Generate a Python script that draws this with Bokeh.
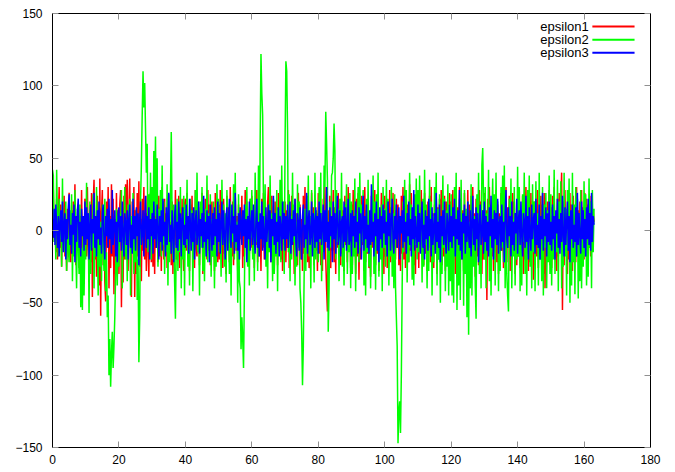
import numpy as np
from bokeh.plotting import figure
from bokeh.models import (Range1d, LinearAxis, FixedTicker, Label, Arrow,
                          CustomLabelingPolicy)
from bokeh.embed import file_html
from bokeh.resources import INLINE

x_step = 0.25

epsilon1 = [
    -8, 28, -5, 12, -15, 22, -20, 6, 30, -12,
    18, -25, 10, -4, 24, -18, 8, -28, 15, -10,
    26, -6, -22, 14, -16, 20, -8, 32, -24, 4,
    -12, 18, -26, 10, -20, 28, -14, 6, -30, 22,
    20, -18, 30, -10, -28, 14, -22, 26, -46, 18,
    35, -20, 8, -32, 24, -14, -38, 36, -59, 12,
    28, -24, 16, -35, -49, 20, -12, 30, -40, 10,
    -26, 32, -18, 22, -44, 8, -30, 26, -20, 14,
    -30, 18, 28, -53, 12, -36, 24, -20, 32, -15,
    35, -28, 10, 36, -22, -46, 20, -12, 30, -46,
    14, -30, 26, -18, 34, -25, 8, -35, 22, -14,
    30, -20, 12, -28, 24, -10, -32, 18, 26, -22,
    20, -25, 14, -30, 28, -12, 8, -22, 24, -18,
    16, -28, 30, -8, -20, 22, -14, 12, -26, 18,
    25, -16, 6, -24, 20, -30, 14, -10, 28, -20,
    10, -18, 24, -26, 16, -12, 22, -8, -28, 18,
    22, -14, 26, -20, 10, -28, 18, -8, 24, -22,
    14, -26, 28, -12, -18, 20, 8, -24, 16, -10,
    26, -30, 12, -16, 22, -6, -20, 28, -14, 18,
    -24, 10, 20, -18, 14, -28, 26, -12, 8, -22,
    18, -20, 28, -10, 14, -26, 22, -16, 8, -30,
    24, -12, 16, -22, 30, -8, -18, 20, -24, 12,
    26, -14, 10, -28, 18, -20, 14, -6, 24, -26,
    12, -18, 28, -10, 20, -24, 8, -16, 22, -12,
    24, -16, 12, -26, 20, -10, 28, -22, 14, -18,
    8, -28, 22, -12, 26, -20, 16, -8, -24, 18,
    30, -14, 10, -22, 24, -18, 12, -30, 20, -6,
    16, -24, 26, -14, 8, -20, 22, -28, 14, -10,
    20, -22, 14, -12, 28, -26, 10, -18, 24, -8,
    16, -30, 22, -14, 12, -24, 26, -10, 18, -20,
    8, -28, 24, -16, 30, -12, 14, -22, 20, -26,
    10, -18, 26, -8, 16, -24, 22, -14, 12, -28,
    26, -16, 20, -24, 12, -28, 22, -10, 30, -20,
    -40, -56, 14, -18, 24, -26, 10, -14, 28, -22,
    16, -30, 20, -12, 26, -18, 8, -24, 22, -16,
    14, -28, 24, -10, 18, -22, 30, -14, 12, -26,
    18, -24, 28, -14, 10, -30, 22, -18, 26, -34,
    12, -20, 24, -10, 16, -28, 30, -22, 14, -16,
    20, -26, 8, -32, 24, -12, 18, -20, 28, -24,
    10, -16, 22, -28, 14, -8, 26, -20, 16, -30,
    24, -18, 12, -26, 20, -14, 28, -22, 16, -10,
    26, -30, 14, -20, 22, -12, 18, -24, 10, -28,
    24, -16, 30, -20, 12, -26, 22, -8, 18, -22,
    32, -14, 26, -18, 10, -24, 20, -30, 14, -12,
    22, -26, 16, -12, 28, -20, 10, -24, 26, -16,
    14, -28, 20, -10, 24, -22, 30, -18, 12, -26,
    18, -14, 26, -30, 16, -20, 22, -12, 28, -24,
    10, -18, 24, -28, 20, -14, 12, -22, 26, -16,
    20, -24, 28, -14, 12, -30, 24, -18, 16, -26,
    30, -12, 22, -20, 14, -28, 26, -16, 10, -22,
    28, -14, 18, -26, 24, -10, 30, -20, 12, -32,
    22, -18, 16, -24, 28, -12, 20, -30, 14, -20,
    26, -20, 14, -48, 22, -16, 30, -24, 10, -18,
    24, -28, 16, -12, 28, -22, 18, -30, 12, -20,
    26, -14, 22, -26, 10, -18, 30, -22, 16, -12,
    24, -28, 14, -20, 26, -16, 20, -30, 12, -24,
    22, -18, 28, -26, 14, -12, 24, -30, 18, -20,
    30, -16, 12, -28, 22, -22, 26, -14, 16, -34,
    20, -24, 10, -18, 28, -26, 14, -20, 24, -12,
    18, -30, 26, -40, 12, -22, 20, -16, 28, -24,
    16, -26, 24, -14, 30, -20, 12, -28, 22, -18,
    26, -12, 18, 40, -55, 20, -24, 28, -16, 14,
    -30, 22, -20, 26, -12, 18, -28, 24, -14, 10,
    -22, 30, -18, 14, -26, 20, -10, 28, -24, 16,
    -20, 26, -14, 22, -28, 18, -12, 24, -18, 20,
    -10, 14, 6,
]

epsilon2 = [
    42, 38, -8, 15, -20, 42, 5, -18, 22, -6,
    12, -25, 36, -10, 4, -15, 20, -28, 8, -12,
    -22, 14, -5, 25, -35, 6, -18, 28, -10, -40,
    15, -8, -30, 18, -53, -12, -55, 10, -45, -5,
    -20, 33, -5, 12, -57, 20, -30, 8, -12, 25,
    -40, 5, -18, 30, -8, -45, 14, -25, 6, -35,
    18, -10, -28, 22, -42, -15, -60, -45, -100, -75,
    -108, -85, -70, -95, -80, -60, -30, 15, -38, 10,
    -25, 12, -8, 28, -40, 5, -15, 30, -20, 8,
    -35, 18, -6, 22, -45, 10, -12, 26, -30, 4,
    -22, 15, -48, -20, -91, -60, 20, 45, 80, 110,
    85, 102, 70, 40, 60, -15, 25, -10, 40, -20,
    30, -12, 55, 10, 65, -8, 50, -25, 15, -5,
    28, -18, 45, -10, 20, -30, 6, -15, 32, -38,
    12, -22, 25, 68, 8, -20, 18, -35, -61, -10,
    22, -28, 5, -15, 30, -40, 10, -20, 24, -45,
    18, -10, 35, -25, 6, -38, 22, -8, 14, -42,
    10, -20, 28, -5, 40, -15, 8, -45, 20, -12,
    30, -28, 5, -35, 15, -10, 38, -22, 12, -6,
    25, -32, 8, -18, 20, -40, 6, -25, 32, -8,
    22, -15, 8, -32, 35, -6, 18, -25, 12, -36,
    28, -10, 5, -30, 20, -45, 14, -8, 32, -20,
    40, -12, 6, -50, 25, -35, -40, -82, -60, -75,
    -95, -45, 18, -10, 30, -25, 8, -38, 22, -5,
    28, -20, 10, -35, 40, -8, 15, -28, 45, -12,
    60, 122, 95, 80, 20, -10, 32, -25, 6, -40,
    18, -15, 38, -6, 12, -35, 22, -30, 8, -18,
    28, -42, 14, -10, 35, -22, 45, -5, 20, -30,
    60, 117, 110, 70, -15, 25, -35, 10, -20, 40,
    -8, 18, -38, 6, -25, 32, -12, 20, -40, -50,
    -70, -107, -80, -30, 15, -28, 24, -6, 38, -18,
    10, -40, 28, -12, 5, -36, 40, -20, 14, -8,
    -22, 30, -8, 40, -35, 12, -15, 45, 30, 82,
    60, 35, -70, -40, 20, -12, 38, 40, 50, 74,
    55, -20, 28, -8, 15, -35, 22, -12, 40, -25,
    8, -38, 18, -6, 32, -30, 10, -15, 26, -40,
    20, -30, 8, -18, 36, -42, 12, -5, 30, -22,
    40, -12, 18, -8, 28, -38, 6, -45, 22, -15,
    35, -25, 10, -40, 15, -6, 38, -30, 20, -41,
    25, -10, 40, -32, 5, -20, 18, -42, 30, -12,
    15, -25, 35, -10, 22, -38, 8, -18, 30, -32,
    12, -40, 25, -39, -60, -80, -147, -125, -118, -140,
    -100, -40, 20, -15, 35, -8, 28, -36, 10, -22,
    40, -12, 18, -34, 6, -38, 25, -10, 36, -20,
    28, -15, 38, -8, 12, -36, 22, -25, 42, -10,
    18, -40, 6, -28, 35, -12, 20, -45, 10, -22,
    30, -8, 40, -38, 15, -20, 25, -50, 8, -30,
    38, -12, 22, -42, 14, -25, 32, -45, 18, -35,
    25, -45, 12, -50, 30, -18, 40, -55, 8, -38,
    22, -48, 35, -15, 10, -52, 28, -30, 15, -60,
    20, -72, 6, -40, 32, -45, 18, -25, 10, -38,
    -61, 25, -12, 40, -30, 8, -40, 45, 57, 20,
    -20, 30, -40, 12, -8, 42, -35, 18, -45, 6,
    36, -15, 25, -38, 40, -10, 20, -42, 8, -28,
    30, -12, 38, -22, 45, -40, 15, -30, -45, -56,
    22, -10, 36, -40, 8, -18, 30, -38, 12, -20,
    44, -18, 30, -42, 10, -38, 25, -8, 40, -30,
    15, -45, 28, -12, 38, -25, 6, -40, 32, -15,
    20, -42, 34, -10, 12, -38, 40, -20, 8, -35,
    30, -45, 18, -12, 26, -40, 14, -22, 38, -30,
    25, -38, 12, -20, 42, -30, 8, -15, 35, -42,
    20, -10, 34, -40, 6, -25, 40, -18, 15, -45,
    28, -12, 36, -50, 10, -38, 40, -22, 18, -44,
    30, -8, 22, -47, 12, -35, 28, -40, 6, -25,
    34, -18, 25, -38, 10, -32, 36, -12, 20, -40,
    28, -15, 15,
]

epsilon3 = [
    8, -5, 15, -10, 18, 2, -12, 10, -18, 6,
    14, -8, 20, -15, 5, 12, -20, 8, -6, 16,
    25, -10, 4, -16, 12, -3, 18, -22, 10, -8,
    14, 22, -12, 6, -18, 15, -4, 10, -14, 20,
    -10, 16, -6, 12, -20, 4, 18, -14, 8, -2,
    26, -12, 10, -18, 14, -6, 20, -10, 2, -16,
    12, 18, -8, -20, 10, -4, 15, -12, 22, -6,
    8, -16, 28, -10, 4, 14, -18, 6, -22, 12,
    16, -8, 10, -14, 20, -2, -18, 12, 6, -10,
    14, -20, 8, 18, -12, 4, -16, 22, -6, 10,
    -14, 16, -4, 12, -24, 8, 20, -10, -2, 14,
    -18, 6, 24, -12, 10, -6, 16, -20, 8, -4,
    12, -16, 20, -6, 8, -12, 18, 2, -20, 10,
    -8, 14, -14, 22, -4, 6, -18, 16, -10, 12,
    26, -8, 4, -16, 14, -2, -22, 10, 18, -12,
    6, -14, 20, -6, 12, -18, 8, 16, -10, 4,
    -12, 18, -6, 10, -16, 22, 4, -14, 12, -8,
    16, -20, 6, 14, -10, -2, 20, -16, 8, -4,
    12, -12, 24, -8, 6, -18, 14, -6, 10, -22,
    18, 2, -14, 12, -10, 16, -4, 8, -18, 20,
    -8, 12, -16, 6, 20, -10, 14, -4, -20, 10,
    16, -14, 8, 22, -6, -12, 18, -2, 10, -16,
    26, -8, 4, -14, 12, -20, 16, 6, -10, 14,
    -4, 18, -12, 8, -22, 10, -6, 20, -14, 4,
    14, -10, 18, -4, -16, 8, 22, -12, 6, -18,
    12, -6, 20, -14, 10, -2, -20, 16, -8, 4,
    18, -12, 14, -22, 8, -4, 24, -10, 12, -16,
    6, -8, 16, -18, 10, 2, -14, 20, -6, 12,
    -14, 10, -6, 18, -12, 4, 20, -16, 8, -10,
    14, -4, 22, -8, -18, 12, 6, -14, 16, -2,
    -20, 10, 18, -12, 4, -6, 26, -16, 8, 14,
    -10, -4, 20, -18, 12, 6, -12, 16, -8, 10,
    -16, 20, -6, 12, -10, 4, 18, -20, 14, -8,
    30, -12, 6, -14, 16, -4, 10, -22, 20, -6,
    12, -16, 8, 24, -10, -2, 14, -18, 6, 10,
    -12, 20, -8, 16, -14, 4, 22, -10, -6, 12,
    -18, 14, -4, 10, -12, 20, -8, 6, -16, 16,
    -2, 12, -20, 8, 24, -14, 10, -6, 18, -12,
    4, -16, 14, -10, 32, -8, 6, -18, 12, -4,
    20, -14, 8, -22, 16, -6, 10, -12, 18, -2,
    14, -10, 6, -18, 20, -4, 12, -14, 8, 22,
    -8, -16, 10, -6, 18, -12, 4, 16, -20, 10,
    -2, 14, -12, 24, -8, 6, -16, 12, -4, 20,
    -10, 8, -18, 16, -6, 28, -14, 10, -2, -12,
    18, -8, 12, -16, 6, 20, -12, 4, -20, 14,
    -6, 10, -14, 22, -4, 8, -18, 16, -10, 2,
    12, -16, 26, -8, 6, -12, 18, -22, 10, -4,
    14, -10, 20, -6, -16, 12, 4, -14, 18, -8,
    10, -12, 16, -4, 22, -18, 8, -6, 14, -10,
    28, -14, 6, -20, 12, -2, 18, -16, 10, -8,
    20, -4, -12, 14, -18, 6, 24, -10, 8, -14,
    16, -6, 12, -22, 4, 18, -10, -2, 14, -16,
    20, -8, 10, -14, 6, -18, 16, -4, 24, -12,
    8, -20, 14, -6, 12, -10, 22, -16, 4, 10,
    -14, 18, -8, 6, -22, 12, 28, -6, -12, 16,
    -4, 10, -18, 20, -10, 6, -14, 12, -2, 22,
    -16, 8, 14, -10, 20, -4, -18, 12, 6, -12,
    24, -8, 10, -20, 16, -2, -14, 18, -6, 8,
    12, -16, 22, -10, 4, -12, 18, -20, 10, -6,
    26, -14, 8, -4, 16, -18, 12, -8, 20, -10,
    6, -14, 18, -6, 10, -20, 14, -2, 22, -12,
    8, -16, 12, -8, 24, -4, -18, 16, -10, 6,
    20, -14, 10, -22, 14, -6, 18, -12, 4, -8,
    16, -18, 26, -10, 12, -4, -16, 20, -6, 14,
    -12, 8, -18, 16, -6, 22, -10, 12, -14, 26,
    -8, 10, 4,
]

series_names = ["epsilon1", "epsilon2", "epsilon3"]
series_values = [epsilon1, epsilon2, epsilon3]
series_colors = ["#ff0000", "#00ff00", "#0000ff"]
x_ticks = [0, 20, 40, 60, 80, 100, 120, 140, 160, 180]
y_ticks = [-150, -100, -50, 0, 50, 100, 150]

FONT = "Liberation Sans"

p = figure(width=675, height=472, output_backend="svg", toolbar_location=None,
           x_range=Range1d(0, 180), y_range=Range1d(-150, 150),
           min_border_left=52, min_border_right=25, min_border_top=13,
           min_border_bottom=25)
p.background_fill_color = "white"
p.border_fill_color = "white"
p.grid.visible = False
p.outline_line_color = "black"
p.outline_line_width = 1

p.add_layout(LinearAxis(), "above")
p.add_layout(LinearAxis(), "right")

for ax in p.xaxis:
    ax.ticker = FixedTicker(ticks=x_ticks)
for ax in p.yaxis:
    ax.ticker = FixedTicker(ticks=y_ticks)

for ax in list(p.xaxis) + list(p.yaxis):
    ax.major_tick_in = 6
    ax.major_tick_out = 0
    ax.minor_tick_in = 0
    ax.minor_tick_out = 0
    ax.major_tick_line_color = "#909090"
    ax.axis_line_color = "black"
    ax.major_label_text_font = FONT
    ax.major_label_text_font_size = "12px"
    ax.major_label_text_color = "black"

p.below[0].major_label_standoff = 7
p.left[0].major_label_standoff = 10

hide_labels = CustomLabelingPolicy(code="""
for (const i of indices) { indices.unset(i) }
return indices
""")
for ax in p.above + p.right:
    ax.major_label_text_font_size = "6px"
    ax.major_label_standoff = 0
    ax.major_label_policy = hide_labels

for name, vals, col in zip(series_names, series_values, series_colors):
    xs = np.arange(len(vals)) * x_step
    p.line(xs, vals, line_color=col, line_width=1.5)

# gnuplot-style key: text right-aligned, sample line to its right
key_text_x = 161.4
key_line_x0 = 162.5
key_line_x1 = 175.2
key_rows_y = [141.0, 131.8, 122.8]
for name, col, ky in zip(series_names, series_colors, key_rows_y):
    p.add_layout(Label(x=key_text_x, y=ky, text=name, text_align="right",
                       text_baseline="middle", text_font=FONT,
                       text_font_size="13px", text_color="black"))
    p.add_layout(Arrow(start=None, end=None, x_start=key_line_x0, y_start=ky,
                       x_end=key_line_x1, y_end=ky, line_color=col, line_width=2))

open("out.html", "w").write(file_html(p, INLINE))
